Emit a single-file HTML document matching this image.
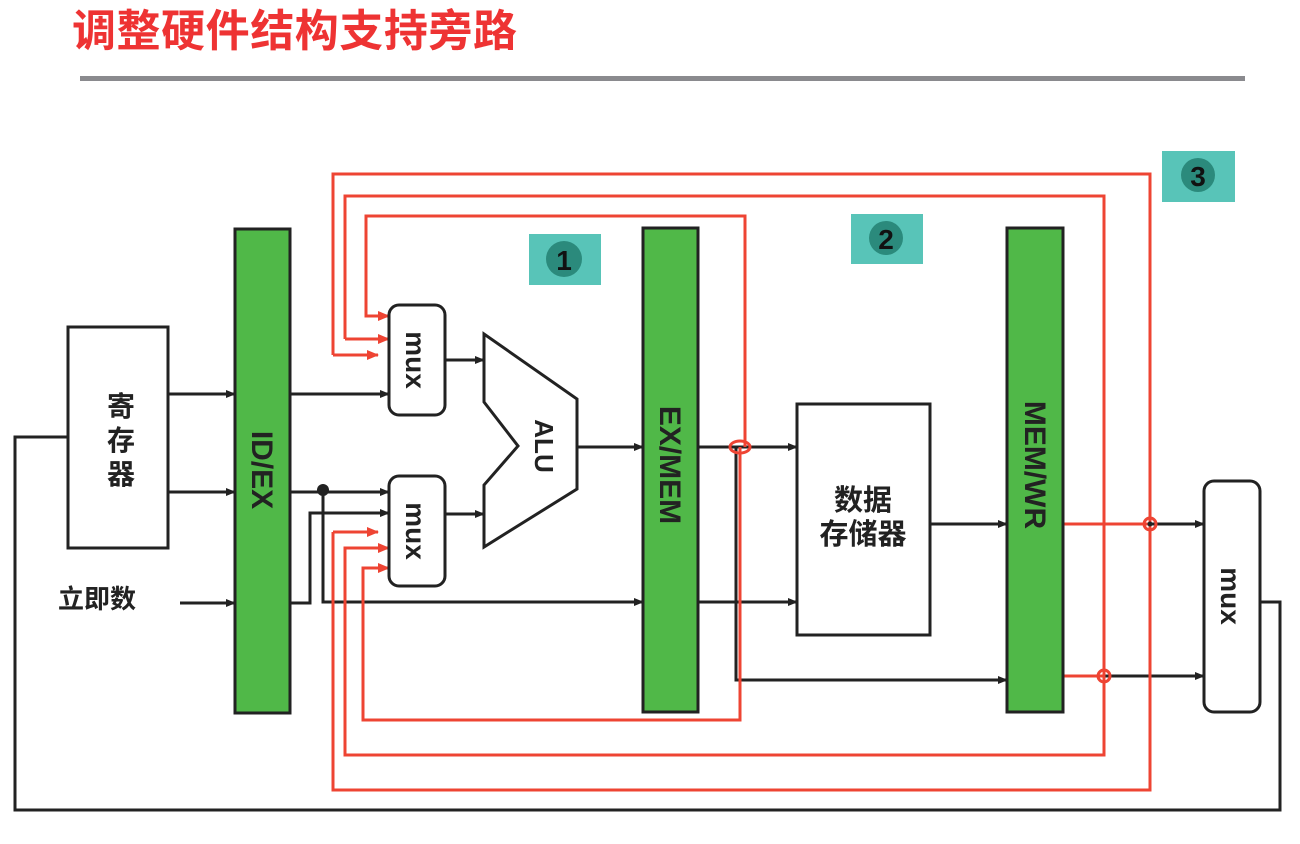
<!DOCTYPE html>
<html><head><meta charset="utf-8"><style>
html,body{margin:0;padding:0;background:#fff;}
svg{display:block;}
text{font-family:"Liberation Sans","Noto Sans CJK SC",sans-serif;}
</style></head><body>
<svg width="1300" height="844" viewBox="0 0 1300 844" xmlns="http://www.w3.org/2000/svg">
<defs>
<marker id="ab" markerWidth="10" markerHeight="8" refX="9" refY="4" orient="auto" markerUnits="userSpaceOnUse"><path d="M0,0 L10,4 L0,8 z" fill="#222"/></marker>
<marker id="ar" markerWidth="12" markerHeight="10" refX="11" refY="5" orient="auto" markerUnits="userSpaceOnUse"><path d="M0,0 L12,5 L0,10 z" fill="#ee4433"/></marker>
</defs>
<text x="72" y="46" font-size="44" font-weight="bold" fill="#ee3333" font-family="'Liberation Sans','Noto Serif CJK SC',serif" textLength="445">调整硬件结构支持旁路</text>
<rect x="80" y="76" width="1165" height="5" fill="#8a8a8e"/>

<!-- badges -->
<g>
<rect x="529" y="234" width="72" height="51" fill="#58c4b8"/><circle cx="564" cy="259" r="18" fill="#2b8a7c"/><text x="564" y="270" font-size="28" font-weight="bold" text-anchor="middle" fill="#111">1</text>
<rect x="851" y="214" width="72" height="50" fill="#58c4b8"/><circle cx="886" cy="238" r="17" fill="#2b8a7c"/><text x="886" y="249" font-size="28" font-weight="bold" text-anchor="middle" fill="#111">2</text>
<rect x="1162" y="151" width="73" height="51" fill="#58c4b8"/><circle cx="1198" cy="175" r="17" fill="#2b8a7c"/><text x="1198" y="186" font-size="28" font-weight="bold" text-anchor="middle" fill="#111">3</text>
</g>

<!-- black wiring -->
<g stroke="#222" stroke-width="3" fill="none">
<line x1="168" y1="394" x2="235" y2="394" marker-end="url(#ab)"/>
<line x1="168" y1="492" x2="235" y2="492" marker-end="url(#ab)"/>
<line x1="180" y1="603" x2="235" y2="603" marker-end="url(#ab)"/>
<line x1="290" y1="394" x2="389" y2="394" marker-end="url(#ab)"/>
<line x1="290" y1="492" x2="389" y2="492" marker-end="url(#ab)"/>
<polyline points="323,490 323,602 643,602" marker-end="url(#ab)"/>
<polyline points="290,603 310,603 310,513 389,513" marker-end="url(#ab)"/>
<line x1="445" y1="360" x2="484" y2="360" marker-end="url(#ab)"/>
<line x1="445" y1="514" x2="484" y2="514" marker-end="url(#ab)"/>
<line x1="577" y1="447" x2="643" y2="447" marker-end="url(#ab)"/>
<line x1="698" y1="447" x2="797" y2="447" marker-end="url(#ab)"/>
<line x1="698" y1="602" x2="797" y2="602" marker-end="url(#ab)"/>
<polyline points="736,447 736,680 1007,680" marker-end="url(#ab)"/>
<line x1="930" y1="524" x2="1007" y2="524" marker-end="url(#ab)"/>
<line x1="1063" y1="524" x2="1204" y2="524" marker-end="url(#ab)"/>
<line x1="1063" y1="676" x2="1204" y2="676" marker-end="url(#ab)"/>
<polyline points="1260,602 1280,602 1280,810 15,810 15,437 80,437" marker-end="url(#ab)"/>
</g>
<circle cx="323" cy="490" r="6" fill="#222"/>

<!-- red bypass -->
<g stroke="#ee4433" stroke-width="3" fill="none">
<polyline points="389,316 366,316 366,216 745,216 745,447" marker-end="none"/>
<line x1="366" y1="316" x2="389" y2="316" marker-end="url(#ar)"/>
<polyline points="740,447 740,720 363,720 363,568 389,568" marker-end="url(#ar)"/>
<polyline points="345,339 345,196 1104,196 1104,755 345,755 345,548 389,548" />
<line x1="345" y1="339" x2="389" y2="339" marker-end="url(#ar)"/>
<line x1="345" y1="548" x2="389" y2="548" marker-end="url(#ar)"/>
<polyline points="333,355 333,174 1150,174 1150,790 333,790 333,532"/>
<line x1="333" y1="355" x2="378" y2="355" marker-end="url(#ar)"/>
<line x1="333" y1="532" x2="378" y2="532" marker-end="url(#ar)"/>
<line x1="1063" y1="524" x2="1150" y2="524"/>
<line x1="1063" y1="676" x2="1104" y2="676"/>
</g>
<ellipse cx="740" cy="447" rx="10" ry="6" fill="none" stroke="#ee4433" stroke-width="3"/>
<circle cx="1150" cy="524" r="6" fill="none" stroke="#ee4433" stroke-width="3"/><circle cx="1150" cy="524" r="2.5" fill="#222"/>
<circle cx="1104" cy="676" r="6" fill="none" stroke="#ee4433" stroke-width="3"/>

<!-- components -->
<rect x="68" y="327" width="100" height="221" fill="#fff" stroke="#222" stroke-width="3"/>
<text font-size="28" font-weight="bold" fill="#222" text-anchor="middle" font-family="'Liberation Sans','Noto Serif CJK SC',serif"><tspan x="121" y="416">寄</tspan><tspan x="121" y="450">存</tspan><tspan x="121" y="484">器</tspan></text>
<text x="58" y="608" font-size="26" font-weight="bold" fill="#222" font-family="'Liberation Sans','Noto Serif CJK SC',serif">立即数</text>

<rect x="235" y="229" width="55" height="484" fill="#50b848" stroke="#222" stroke-width="3"/>
<text transform="translate(252,470) rotate(90)" font-size="30" font-weight="bold" text-anchor="middle" fill="#222">ID/EX</text>
<rect x="643" y="228" width="55" height="484" fill="#50b848" stroke="#222" stroke-width="3"/>
<text transform="translate(660,465) rotate(90)" font-size="30" font-weight="bold" text-anchor="middle" fill="#222">EX/MEM</text>
<rect x="1007" y="228" width="56" height="484" fill="#50b848" stroke="#222" stroke-width="3"/>
<text transform="translate(1025,465) rotate(90)" font-size="30" font-weight="bold" text-anchor="middle" fill="#222">MEM/WR</text>

<rect x="389" y="305" width="56" height="110" rx="10" fill="#fff" stroke="#222" stroke-width="3"/>
<text transform="translate(406,360) rotate(90)" font-size="28" font-weight="bold" text-anchor="middle" fill="#222">mux</text>
<rect x="389" y="476" width="56" height="110" rx="10" fill="#fff" stroke="#222" stroke-width="3"/>
<text transform="translate(406,531) rotate(90)" font-size="28" font-weight="bold" text-anchor="middle" fill="#222">mux</text>
<rect x="1204" y="481" width="56" height="231" rx="10" fill="#fff" stroke="#222" stroke-width="3"/>
<text transform="translate(1221,596) rotate(90)" font-size="28" font-weight="bold" text-anchor="middle" fill="#222">mux</text>

<polygon points="484,334 577,399 577,489 484,547 484,485 518,446 484,402" fill="#fff" stroke="#222" stroke-width="3"/>
<text transform="translate(535,446) rotate(90)" font-size="26" font-weight="bold" text-anchor="middle" fill="#222">ALU</text>

<rect x="797" y="404" width="133" height="231" fill="#fff" stroke="#222" stroke-width="3"/>
<text font-size="29" font-weight="bold" fill="#222" text-anchor="middle" font-family="'Liberation Sans','Noto Serif CJK SC',serif"><tspan x="863" y="510">数据</tspan><tspan x="863" y="544">存储器</tspan></text>
</svg>
</body></html>
